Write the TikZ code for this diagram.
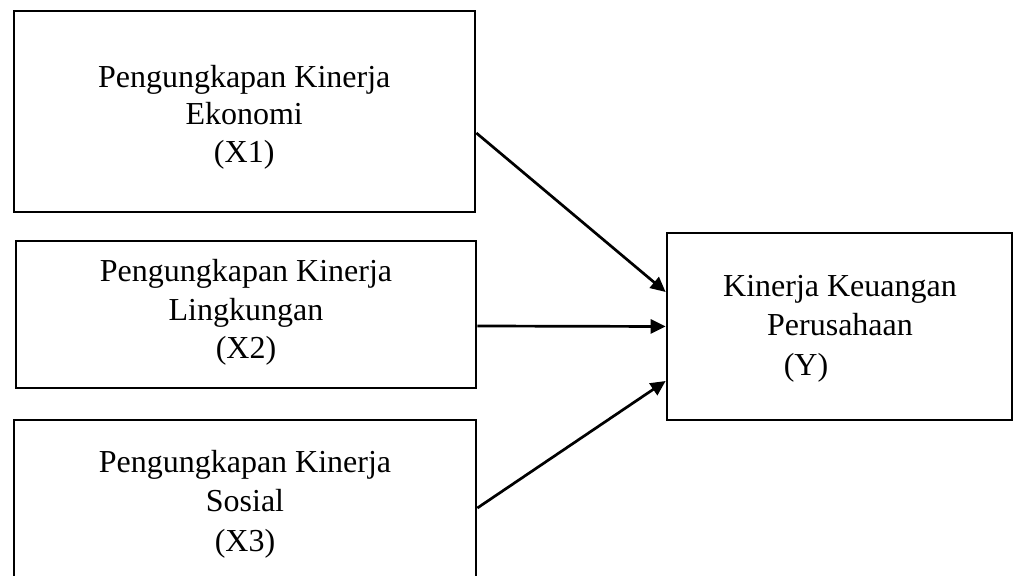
\documentclass[tikz,border=0pt]{standalone}
\usepackage{fontspec}
\setmainfont{Liberation Serif}
\usetikzlibrary{arrows.meta}
\tikzset{
  box/.style={draw=black, line width=1.35pt, inner sep=0pt},
  lbl/.style={align=center, inner sep=0pt, text=black},
  arr/.style={draw=black, line width=1.35pt, -{Triangle[length=7.5pt,width=7pt]}}
}
\begin{document}
\begin{tikzpicture}[x=0.5pt,y=-0.5pt]
\useasboundingbox (0,0) rectangle (1016,576);
\clip (0,0) rectangle (1016,576);
% boxes
\node[box, minimum width=230.5pt, minimum height=100.5pt] (b1) at (244.5,111.5) {};
\node[box, minimum width=230pt, minimum height=73.5pt] (b2) at (246,314.5) {};
\node[box, minimum width=231pt, minimum height=90pt] (b3) at (245,510) {};
\node[box, minimum width=172.5pt, minimum height=93.5pt] (by) at (839.5,326.5) {};
% texts
\node[lbl, font={\fontsize{16}{18.7}\selectfont}] (t1) at (244.2,117.2) {Pengungkapan Kinerja\\Ekonomi\\(X1)};
\node[lbl, font={\fontsize{16}{19.4}\selectfont}] (t2) at (246,312.4) {Pengungkapan Kinerja\\Lingkungan\\(X2)};
\node[lbl, font={\fontsize{16}{19.75}\selectfont}] (t3) at (245,504.1) {Pengungkapan Kinerja\\Sosial\\(X3)};
\node[lbl, font={\fontsize{16}{19.7}\selectfont}] (ty) at (840,328.5) {Kinerja Keuangan\\Perusahaan\\(Y)\hspace*{34pt}};
% arrows
\draw[arr] ([yshift=-10.75pt]b1.east) -- ([yshift=17.25pt]by.west);
\draw[arr] ([yshift=-5.75pt]b2.east) -- ([yshift=0pt]by.west);
\draw[arr] ([yshift=1pt]b3.east) -- ([yshift=-27.25pt]by.west);
\end{tikzpicture}
\end{document}
